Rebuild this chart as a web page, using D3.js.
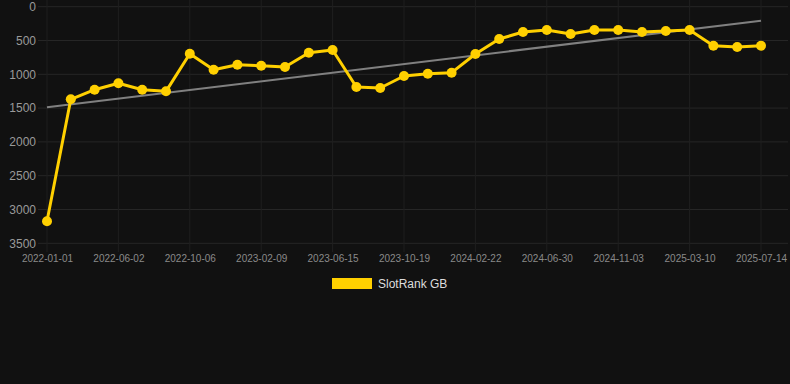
<!DOCTYPE html>
<html>
<head>
<meta charset="utf-8">
<script src="https://cdn.jsdelivr.net/npm/d3@7"></script>
<style>
	html, body { margin: 0; padding: 0; background: #111111; }
	svg { display: block; font-family: "Liberation Sans", Arial, sans-serif; }
</style>
</head>
<body>
<svg id="chart" width="790" height="384"></svg>
<script>
// categories (one point per date, every 3rd labelled)
let dates = [
	'2022-01-01', '2022-02-21', '2022-04-12', '2022-06-02', '2022-07-24', '2022-08-15',
	'2022-10-06', '2022-11-17', '2022-12-29', '2023-02-09', '2023-03-23', '2023-05-04',
	'2023-06-15', '2023-07-27', '2023-09-07', '2023-10-19', '2023-11-30', '2024-01-11',
	'2024-02-22', '2024-04-05', '2024-05-18', '2024-06-30', '2024-08-10', '2024-09-22',
	'2024-11-03', '2024-12-15', '2025-01-27', '2025-03-10', '2025-04-20', '2025-06-01',
	'2025-07-14'
];
// SlotRank GB rank values
let rankValues = [
	3175, 1370, 1228, 1133, 1228, 1252,
	695, 932, 858, 873, 892, 680,
	640, 1188, 1203, 1025, 991, 976,
	700, 478, 374, 345, 404, 345,
	345, 374, 360, 345, 577, 596,
	577
];
// trend line, first and last value
let trendValues = [1488, 207];
let yTicks = [0, 500, 1000, 1500, 2000, 2500, 3000, 3500];
let seriesName = 'SlotRank GB';

let svg = d3.select('#chart');
let plotLeft = 47, plotRight = 761, plotTop = 6.7, plotBottom = 243.3;

let x = d3.scalePoint().domain(dates).range([plotLeft, plotRight]);
let y = d3.scaleLinear().domain([0, 3500]).range([plotTop, plotBottom]);

// horizontal grid
svg.append('g').selectAll('line').data(yTicks).enter().append('line')
	.attr('x1', 38).attr('x2', 788)
	.attr('y1', d => y(d)).attr('y2', d => y(d))
	.attr('stroke', '#262626').attr('stroke-width', 1);

// vertical grid at labelled dates
let labelled = dates.filter((d, i) => i % 3 === 0);
svg.append('g').selectAll('line').data(labelled).enter().append('line')
	.attr('x1', d => x(d)).attr('x2', d => x(d))
	.attr('y1', 0).attr('y2', 252)
	.attr('stroke', '#1f1f1f').attr('stroke-width', 1);

// y axis labels
let yAxis = svg.append('g').attr('transform', 'translate(36,0)')
	.call(d3.axisLeft(y).tickValues(yTicks).tickSize(0).tickPadding(0).tickFormat(d3.format('d')));
yAxis.select('.domain').remove();
yAxis.selectAll('text').attr('fill', '#9a9a9a').attr('font-size', 12)
	.attr('font-family', '"Liberation Sans", Arial, sans-serif');

// x axis labels
let xAxis = svg.append('g').attr('transform', 'translate(0,253)')
	.call(d3.axisBottom(x).tickValues(labelled).tickSize(0).tickPadding(2));
xAxis.select('.domain').remove();
xAxis.selectAll('text').attr('fill', '#8a8a8a').attr('font-size', 10)
	.attr('font-family', '"Liberation Sans", Arial, sans-serif');

// trend line
svg.append('line')
	.attr('x1', x(dates[0])).attr('y1', y(trendValues[0]))
	.attr('x2', x(dates[dates.length - 1])).attr('y2', y(trendValues[1]))
	.attr('stroke', '#808080').attr('stroke-width', 2);

// series line
let line = d3.line().x((d, i) => x(dates[i])).y(d => y(d));
svg.append('path').datum(rankValues)
	.attr('d', line).attr('fill', 'none')
	.attr('stroke', '#FFD000').attr('stroke-width', 3).attr('stroke-linejoin', 'round');

svg.append('g').selectAll('circle').data(rankValues).enter().append('circle')
	.attr('cx', (d, i) => x(dates[i])).attr('cy', d => y(d)).attr('r', 5)
	.attr('fill', '#FFD000');

// legend
let legend = svg.append('g').attr('transform', 'translate(332,278)');
legend.append('rect').attr('width', 40).attr('height', 11).attr('fill', '#FFD000');
legend.append('text').attr('x', 46).attr('y', 10).text(seriesName)
	.attr('fill', '#dddddd').attr('font-size', 12);
</script>
</body>
</html>
